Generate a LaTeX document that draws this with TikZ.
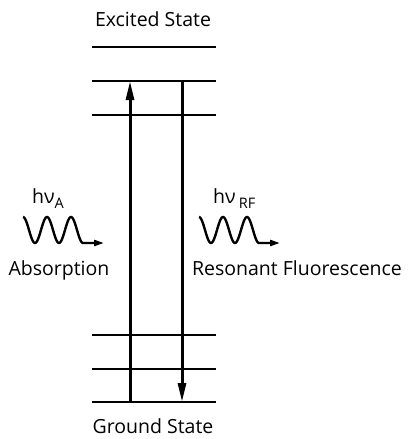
\documentclass[tikz,border=0pt]{standalone}
\usepackage{fontspec}
\setmainfont{Open Sans}
\usetikzlibrary{arrows.meta}
\tikzset{
  level/.style={line width=2.4pt},
  transition/.style={line width=3pt,-{Triangle[length=19pt,width=8pt]}},
  photon/.style={line width=2.4pt,-{Triangle[length=10pt,width=6pt]}},
  label/.style={font=\fontsize{19.5}{22}\selectfont,inner sep=0pt},
}
% one wavy photon: start at #1 (top of first crest), named #3 at its tip
\newcommand{\photonwave}[3]{%
  \draw[photon] (#1) plot[domain=0:60,samples=80,smooth]
    ([shift={(\x,{-13*cos(\x*15)+13})}]#1) -- ++(#2,0) coordinate (#3);}
\newcommand{\subtext}[1]{\raisebox{-0.5ex}{\fontsize{14.5}{16}\selectfont #1}}
\begin{document}
\begin{tikzpicture}[x=1pt,y=-1pt]
\useasboundingbox (0,0) rectangle (409,439);
% energy levels
\foreach \name/\y in {ex1/47,ex2/81,ex3/115,gr1/335,gr2/369,gr3/402}{
  \coordinate (\name-l) at (92,\y);
  \coordinate (\name-r) at (216,\y);
  \draw[level] (\name-l) -- (\name-r);
}
% transitions
\coordinate (absfrom) at (130,403);
\coordinate (absto) at (130,81);
\coordinate (fluofrom) at (182,80);
\coordinate (fluoto) at (182,402);
\draw[transition] (absfrom) -- (absto);
\draw[transition] (fluofrom) -- (fluoto);
% labels
\node[label,anchor=base] (excited) at (153,27) {Excited State};
\node[label,anchor=base] (ground) at (153,433) {Ground State};
\node[label,anchor=base] (absorption) at (59,275) {Absorption};
\node[label,anchor=base] (resonant) at (297,275) {Resonant Fluorescence};
\node[label,anchor=base west] (hvA) at (32,203) {hν\subtext{A}};
\node[label,anchor=base west] (hvRF) at (213,203) {hν\,\subtext{RF}};
% photons
\coordinate (waveA) at (23,217);
\coordinate (waveRF) at (199,217);
\photonwave{waveA}{21}{tipA}
\photonwave{waveRF}{21}{tipRF}
\end{tikzpicture}
\end{document}
